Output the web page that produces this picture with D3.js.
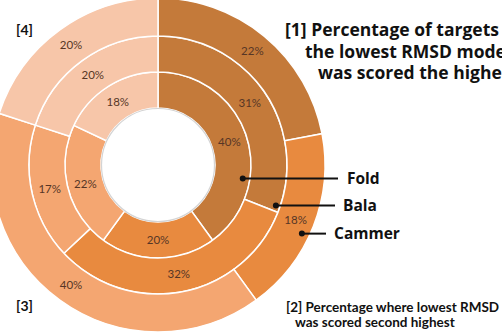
<!DOCTYPE html>
<html>
<head>
<meta charset="utf-8">
<script src="https://cdn.jsdelivr.net/npm/d3@7"></script>
<style>
  body { margin: 0; background: #fff; }
  svg { display: block; }
</style>
</head>
<body>
<div id="chart"></div>
<script>
// rings from inside out, each split into the four ranking categories
var rings = ["Fold", "Bala", "Cammer"];
var categories = ["[1]", "[2]", "[3]", "[4]"];
var foldValues = [40, 20, 22, 18];
var balaValues = [31, 32, 17, 20];
var cammerValues = [22, 18, 40, 20];
var ringValues = [foldValues, balaValues, cammerValues];

var width = 502, height = 333;
var cx = 158, cy = 165;
var radii = [57, 93, 129, 167];

var color = d3.scaleOrdinal()
    .domain(categories)
    .range(["#c47a3a", "#e88a3f", "#f4a671", "#f7c6a9"]);

var svg = d3.select("#chart")
    .append("svg")
    .attr("width", width)
    .attr("height", height);

var pie = d3.pie()
    .sort(null)
    .value(function(d) { return d; });

var g = svg.append("g")
    .attr("transform", "translate(" + cx + "," + cy + ")");

ringValues.forEach(function(vals, ri) {
    var arc = d3.arc()
        .innerRadius(radii[ri])
        .outerRadius(radii[ri + 1]);

    var slices = g.append("g").attr("class", "ring")
        .selectAll("g")
        .data(pie(vals))
        .enter()
        .append("g");

    slices.append("path")
        .attr("d", arc)
        .attr("fill", function(d, i) { return color(categories[i]); })
        .attr("stroke", "#fff")
        .attr("stroke-width", 1.5);

    slices.append("text")
        .attr("transform", function(d) { return "translate(" + arc.centroid(d) + ")"; })
        .attr("dy", "0.35em")
        .attr("text-anchor", "middle")
        .attr("font-family", "Lato, sans-serif")
        .attr("font-size", 11.5)
        .attr("fill", "#563626")
        .text(function(d) { return d.data + "%"; });
});

// faint shadow round the hole
g.append("circle")
    .attr("r", radii[0] - 0.5)
    .attr("fill", "#fff")
    .attr("stroke", "#d4d4d4")
    .attr("stroke-width", 1.2);

// leader lines to the ring names
var leaderAngles = [99, 109, 115.5];       // degrees clockwise from top
var leaderDepth = [0.8, 0.88, 0.8];        // where the dot sits inside its ring
var leaderEnd = [338, 335, 326];
var labelX = [347, 343, 334];

rings.forEach(function(name, ri) {
    var r = radii[ri] + (radii[ri + 1] - radii[ri]) * leaderDepth[ri];
    var p = d3.pointRadial(leaderAngles[ri] * Math.PI / 180, r);
    var x = cx + p[0], y = cy + p[1];
    svg.append("line")
        .attr("x1", x).attr("y1", y)
        .attr("x2", leaderEnd[ri]).attr("y2", y)
        .attr("stroke", "#111")
        .attr("stroke-width", 2);
    svg.append("circle")
        .attr("cx", x).attr("cy", y)
        .attr("r", 3)
        .attr("fill", "#111");
    svg.append("text")
        .attr("x", labelX[ri]).attr("y", y)
        .attr("dy", "0.35em")
        .attr("font-family", "'Open Sans', sans-serif")
        .attr("font-weight", "bold")
        .attr("font-size", 15.5)
        .attr("fill", "#111")
        .text(name);
});

// category captions
function caption(lines, x, y, size, lh, family) {
    var t = svg.append("text")
        .attr("font-family", family)
        .attr("font-weight", "bold")
        .attr("font-size", size)
        .attr("fill", "#111");
    lines.forEach(function(l, i) {
        t.append("tspan")
            .attr("x", x[i])
            .attr("y", y + i * lh)
            .text(l);
    });
}

caption(["[1] Percentage of targets where", "the lowest RMSD model", "was scored the highest"],
        [285, 305, 318], 36, 17.5, 21.5, "'Open Sans', sans-serif");
caption(["[2] Percentage where lowest RMSD", "was scored second highest"],
        [286, 295], 312, 13.5, 15, "Lato, sans-serif");
caption(["[4]"], [16], 35, 14, 0, "Lato, sans-serif");
caption(["[3]"], [16], 311, 14, 0, "Lato, sans-serif");
</script>
</body>
</html>
